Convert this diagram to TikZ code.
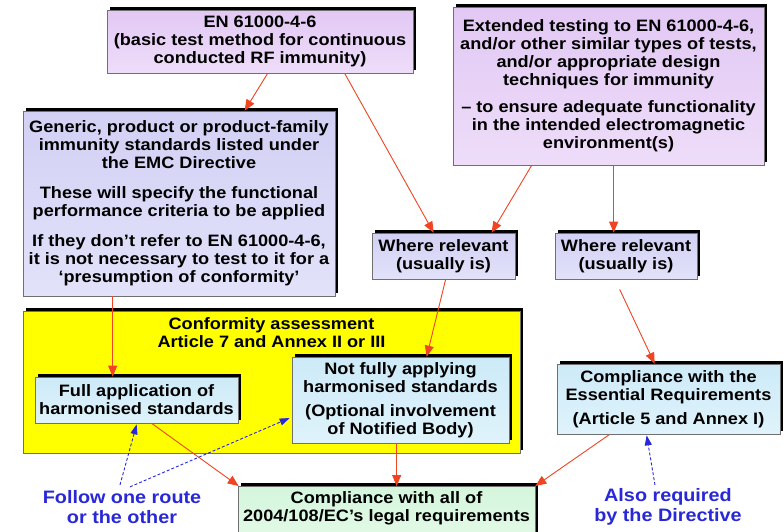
\documentclass[tikz,border=0pt]{standalone}
\usepackage{fontspec}
\setmainfont{Liberation Sans}[FakeStretch=1.1]
\usetikzlibrary{shadows,arrows.meta,calc}
\definecolor{redc}{HTML}{F04422}
\definecolor{bluec}{HTML}{2828D8}
\definecolor{bordc}{HTML}{707070}
\definecolor{enT}{HTML}{E2C8F4}
\definecolor{enB}{HTML}{EEDDF9}
\definecolor{genT}{HTML}{D2D0F4}
\definecolor{genB}{HTML}{E2E2FA}
\definecolor{cyT}{HTML}{CDEAF8}
\definecolor{cyB}{HTML}{DFF3FB}
\definecolor{grT}{HTML}{D4F6DC}
\definecolor{grB}{HTML}{E4FAE8}
\definecolor{yel}{HTML}{FFFF00}
\begin{document}
\begin{tikzpicture}[x=1pt,y=-1pt,
  box/.style={draw=bordc, line width=0.7pt, align=center, inner sep=0pt,
    font=\fontsize{16.5}{18}\selectfont\bfseries,
    drop shadow={shadow xshift=3pt, shadow yshift=3pt, fill=black, opacity=1}},
  purp/.style={box, top color=enT, bottom color=enB},
  lav/.style={box, top color=genT, bottom color=genB},
  cyan/.style={box, top color=cyT, bottom color=cyB},
  green/.style={box, top color=grT, bottom color=grB},
  redarr/.style={draw=redc, line width=0.9pt, -{Triangle[length=11pt,width=9pt]}},
  bluearr/.style={draw=bluec, line width=0.9pt, dash pattern=on 3pt off 2pt, -{Triangle[length=10pt,width=7pt]}},
  note/.style={text=bluec, align=center, font=\fontsize{18}{20}\selectfont\bfseries}
]
\fill[white] (0,0) rectangle (784,531);
\useasboundingbox (0,0) rectangle (784,531);
\begin{scope}
\clip (0,0) rectangle (784,531);
% yellow container
\node[box, fill=yel, minimum width=497pt, minimum height=142pt] (yb) at (271.5,382) {};
\node[font=\fontsize{16.5}{18}\selectfont\bfseries, align=center, anchor=north] (ytitle) at (271.5,314) {Conformity assessment\\Article 7 and Annex II or III};

\node[purp, minimum width=306pt, minimum height=63pt] (en) at (260,41.5)
 {EN 61000-4-6\\(basic test method for continuous\\conducted RF immunity)};
\node[purp, minimum width=311pt, minimum height=158pt] (ext) at (608.5,86)
 {Extended testing to EN 61000-4-6,\\and/or other similar types of tests,\\and/or appropriate design\\techniques for immunity\\[9pt]
 -- to ensure adequate functionality\\in the intended electromagnetic\\environment(s)};
\node[lav, minimum width=312pt, minimum height=185pt] (gen) at (179,203.5)
 {Generic, product or product-family\\immunity standards listed under\\the EMC Directive\\[12pt]
 These will specify the functional\\performance criteria to be applied\\[12pt]
 If they don’t refer to EN 61000-4-6,\\it is not necessary to test to it for a\\‘presumption of conformity’};
\node[lav, minimum width=143pt, minimum height=46pt] (wr1) at (443.5,256) {Where relevant\\(usually is)};
\node[lav, minimum width=142pt, minimum height=46pt] (wr2) at (626,256) {Where relevant\\(usually is)};
\node[cyan, minimum width=203pt, minimum height=46pt] (full) at (136.5,400) {Full application of\\harmonised standards};
\node[cyan, minimum width=217pt, minimum height=86pt] (nf) at (400.5,400)
 {Not fully applying\\harmonised standards\\[6pt](Optional involvement\\of Notified Body)};
\node[cyan, minimum width=223pt, minimum height=70pt] (er) at (668.5,399)
 {Compliance with the\\Essential Requirements\\[6pt](Article 5 and Annex I)};
\node[green, minimum width=297pt, minimum height=60pt, anchor=north] (all) at (386.5,486)
 {\raisebox{0pt}[\height][\dimexpr\depth+15pt\relax]{\begin{tabular}{@{}c@{}}Compliance with all of\\2004/108/EC’s legal requirements\end{tabular}}};
\end{scope}

\node[note] (follow) at (122,507) {Follow one route\\or the other};
\node[note] (also) at (668,507) {Also required\\by the Directive};

% red arrows
\draw[redarr] ($(en.south west)+(161,0)$) -- ($(gen.north west)+(222,0)$);
\draw[redarr] ($(en.south west)+(238,0)$) -- ($(wr1.north west)+(62,0)$);
\draw[redarr] ($(ext.south west)+(79,0)$) -- ($(wr1.north west)+(120,0)$);
\draw[redarr] ($(ext.south west)+(161,0)$) -- ($(wr2.north west)+(59,0)$);
\draw[redarr] ($(gen.south west)+(90,0)$) -- ($(full.north west)+(78,0)$);
\draw[redarr] ($(wr1.south west)+(74,0)$) -- ($(nf.north west)+(135,0)$);
\draw[redarr] ($(wr2.south west)+(65,10)$) -- ($(er.north west)+(98,0)$);
\draw[redarr] ($(full.south west)+(117,0)$) -- ($(all.north west)+(1,0)$);
\draw[redarr] ($(nf.south west)+(105,0)$) -- ($(all.north west)+(159,0)$);
\draw[redarr] ($(er.south west)+(53,0)$) -- ($(all.north east)+(0,0)$);
% blue dashed arrows
\draw[bluearr] ($(follow.north)+(-2,-2)$) -- ($(full.south west)+(102,1)$);
\draw[bluearr] ($(follow.north)+(8,0)$) -- ($(nf.west)+(-2,18)$);
\draw[bluearr] ($(also.north)+(-13,0)$) -- ($(er.south west)+(90,1)$);
\end{tikzpicture}
\end{document}
